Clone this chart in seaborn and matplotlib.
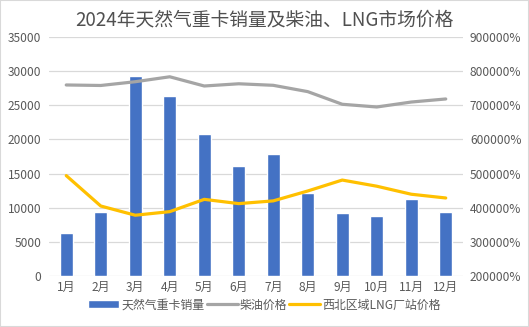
import matplotlib
matplotlib.use("Agg")
import matplotlib.pyplot as plt
import matplotlib.patches as mpatches
from matplotlib.lines import Line2D
from matplotlib.ticker import FuncFormatter, MultipleLocator
import numpy as np
import pandas as pd
import seaborn as sns

months = ["1月", "2月", "3月", "4月", "5月", "6月", "7月", "8月", "9月", "10月", "11月", "12月"]
truck_sales = [6300, 9400, 29300, 26300, 20800, 16100, 17900, 12200, 9250, 8800, 11300, 9400]
diesel_price = [7595, 7580, 7690, 7835, 7565, 7630, 7585, 7400, 7030, 6950, 7095, 7185]
lng_price = [4940, 4050, 3780, 3885, 4245, 4120, 4200, 4490, 4810, 4630, 4395, 4285]

title = "2024年天然气重卡销量及柴油、LNG市场价格"
series_names = ["天然气重卡销量", "柴油价格", "西北区域LNG厂站价格"]

sns.set_theme(style="white")
plt.rcParams["font.family"] = ["Noto Sans CJK SC", "DejaVu Sans"]

TXT = "#595959"
BLUE = "#4472C4"
GREY = "#A5A5A5"
YELLOW = "#FFC000"

df = pd.DataFrame({"month": months, "sales": truck_sales,
                   "diesel": diesel_price, "lng": lng_price,
                   "pos": np.arange(len(months))})

fig = plt.figure(figsize=(5.29, 3.27), dpi=100)
ax = fig.add_axes([49 / 529, 1 - 276 / 327, (463 - 49) / 529, (276 - 37) / 327])

sns.barplot(data=df, x="month", y="sales", color=BLUE, width=0.38,
            saturation=1, ax=ax, zorder=2)
ax.set_ylim(0, 35000)
ax.yaxis.set_major_locator(MultipleLocator(5000))
ax.grid(axis="y", color="#D9D9D9", linewidth=0.9, zorder=0)
ax.set_axisbelow(True)
ax.set_xlabel("")
ax.set_ylabel("")
ax.set_xlim(-0.5, 11.5)

ax2 = ax.twinx()
sns.lineplot(data=df, x="pos", y="diesel", color=GREY, linewidth=2.3, ax=ax2, sort=False)
sns.lineplot(data=df, x="pos", y="lng", color=YELLOW, linewidth=2.3, ax=ax2, sort=False)
ax2.set_ylim(2000, 9000)
ax2.yaxis.set_major_locator(MultipleLocator(1000))
ax2.yaxis.set_major_formatter(FuncFormatter(lambda v, p: f"{int(round(v * 100))}%"))
ax2.set_xlabel("")
ax2.set_ylabel("")
ax2.set_xlim(-0.5, 11.5)

for a in (ax, ax2):
    for s in a.spines.values():
        s.set_visible(False)
    a.tick_params(length=0, labelsize=8.6, labelcolor=TXT)
ax.tick_params(axis="y", pad=5.5)
ax.tick_params(axis="x", pad=3.5)
ax2.tick_params(axis="y", pad=5)

fig.text(0.5, 1 - 20 / 327, title, ha="center", va="center", fontsize=13.5,
         fontweight="medium", color="#505050")

handles = [mpatches.Rectangle((0, 0), 1, 1, facecolor=BLUE),
           Line2D([0], [0], color=GREY, linewidth=2.3),
           Line2D([0], [0], color=YELLOW, linewidth=2.3)]
leg = fig.legend(handles, series_names, loc="center", bbox_to_anchor=(0.5, 1 - 305 / 327),
                 ncol=3, frameon=False, fontsize=8.6, handlelength=2.6, handleheight=0.6,
                 columnspacing=0.2, handletextpad=0.15, labelcolor=TXT)

fig.patches.append(mpatches.Rectangle((0, 0), 1, 1, transform=fig.transFigure,
                                      fill=False, edgecolor="#D9D9D9", linewidth=1.5))

fig.savefig("out.png", dpi=100)
